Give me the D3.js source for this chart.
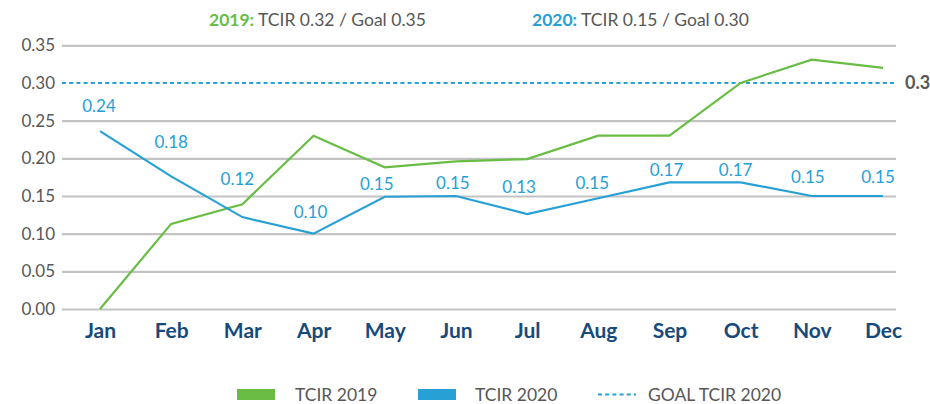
<!DOCTYPE html>
<html>
<head>
<meta charset="utf-8">
<script src="https://cdn.jsdelivr.net/npm/d3@7"></script>
<style>
  html, body { margin: 0; padding: 0; background: #fff; }
  svg { display: block; font-family: Lato, "Open Sans", sans-serif; }
</style>
</head>
<body>
<svg id="chart" width="930" height="404"></svg>
<script>
// ---- data ----
const months = ["Jan", "Feb", "Mar", "Apr", "May", "Jun", "Jul", "Aug", "Sep", "Oct", "Nov", "Dec"];
const tcir2019 = [0.000, 0.113, 0.139, 0.230, 0.188, 0.196, 0.199, 0.230, 0.230, 0.300, 0.331, 0.320];
const tcir2020 = [0.236, 0.176, 0.122, 0.100, 0.149, 0.150, 0.126, 0.147, 0.168, 0.168, 0.150, 0.150];
const goal2020 = 0.30;
const yTicks = [0.00, 0.05, 0.10, 0.15, 0.20, 0.25, 0.30, 0.35];
const legendLabels = ["TCIR 2019", "TCIR 2020", "GOAL TCIR 2020"];
const summary2019 = { year: "2019:", text: " TCIR 0.32 / Goal 0.35" };
const summary2020 = { year: "2020:", text: " TCIR 0.15 / Goal 0.30" };

// ---- layout / style ----
const GREEN = "#69bd45", BLUE = "#27a0d6", NAVY = "#174a7c", GREY = "#575757", GRID = "#c3c3c3";
const plot = { left: 62, right: 896, top: 45.3, bottom: 309 };
// per-label nudges for the 2020 value labels [dx, dy] relative to the point
const labelNudge = [[-1, -25], [0, -34], [-5, -38], [-3, -22], [-8, -13], [-3, -13],
                    [-8, -27], [-6, -15], [-3, -12], [-5, -12], [-4, -19], [-5, -19]];

const svg = d3.select("#chart");

const x = d3.scalePoint().domain(months).range([100, 883]);
const y = d3.scaleLinear().domain([0, 0.35]).range([plot.bottom, plot.top]);
const fmt = d3.format(".2f");

// grid + y labels
const yAxis = svg.append("g")
  .attr("transform", `translate(${plot.left},0)`)
  .call(d3.axisLeft(y).tickValues(yTicks).tickFormat(fmt)
    .tickSize(-(plot.right - plot.left)).tickPadding(7));
yAxis.select(".domain").remove();
yAxis.selectAll(".tick line")
  .attr("stroke", GRID).attr("stroke-width", 2.2)
  .filter(d => Math.abs(d - goal2020) < 1e-9).remove();
yAxis.selectAll(".tick text")
  .attr("fill", GREY).attr("font-size", 17).attr("font-family", "Lato, sans-serif");

// goal line and its value at the right edge
svg.append("line")
  .attr("x1", plot.left).attr("x2", plot.right)
  .attr("y1", y(goal2020)).attr("y2", y(goal2020))
  .attr("stroke", BLUE).attr("stroke-width", 2)
  .attr("stroke-dasharray", "4,3.2");
svg.append("text")
  .attr("x", 905).attr("y", y(goal2020)).attr("dy", "0.35em")
  .attr("font-size", 18).attr("font-weight", 700).attr("fill", GREY)
  .text(fmt(goal2020));

// x axis labels
const xAxis = svg.append("g")
  .attr("transform", `translate(0,${plot.bottom})`)
  .call(d3.axisBottom(x).tickSize(0).tickPadding(14));
xAxis.select(".domain").remove();
xAxis.selectAll(".tick text")
  .attr("fill", NAVY).attr("font-size", 21).attr("font-weight", 700)
  .attr("font-family", "Lato, sans-serif");

// series lines
const line = d3.line().x((d, i) => x(months[i])).y(d => y(d));
svg.append("path").datum(tcir2019)
  .attr("fill", "none").attr("stroke", GREEN).attr("stroke-width", 2.2)
  .attr("stroke-linejoin", "miter").attr("d", line);
svg.append("path").datum(tcir2020)
  .attr("fill", "none").attr("stroke", BLUE).attr("stroke-width", 2.2)
  .attr("stroke-linejoin", "miter").attr("d", line);

// 2020 value labels
svg.append("g").selectAll("text").data(tcir2020).join("text")
  .attr("x", (d, i) => x(months[i]) + labelNudge[i][0])
  .attr("y", (d, i) => y(d) + labelNudge[i][1])
  .attr("dy", "0.35em")
  .attr("text-anchor", "middle")
  .attr("font-size", 17).attr("fill", BLUE)
  .text(d => fmt(d));

// header summary
const head = svg.append("text").attr("y", 26).attr("font-size", 17.5).attr("fill", GREY);
head.append("tspan").attr("x", 209).attr("font-weight", 700).attr("fill", GREEN).text(summary2019.year);
head.append("tspan").text(summary2019.text);
const head2 = svg.append("text").attr("y", 26).attr("font-size", 17.5).attr("fill", GREY);
head2.append("tspan").attr("x", 532).attr("font-weight", 700).attr("fill", BLUE).text(summary2020.year);
head2.append("tspan").text(summary2020.text);

// legend
const legend = svg.append("g").attr("font-size", 17.5).attr("fill", GREY);
const lg = [
  { swatchX: 237, textX: 295, kind: "rect", color: GREEN },
  { swatchX: 418, textX: 475, kind: "rect", color: BLUE },
  { swatchX: 598, textX: 648, kind: "dash", color: BLUE }
];
lg.forEach((l, i) => {
  if (l.kind === "rect") {
    legend.append("rect").attr("x", l.swatchX).attr("y", 389).attr("width", 38).attr("height", 11).attr("fill", l.color);
  } else {
    legend.append("line").attr("x1", l.swatchX).attr("x2", l.swatchX + 38)
      .attr("y1", 394.5).attr("y2", 394.5)
      .attr("stroke", l.color).attr("stroke-width", 2).attr("stroke-dasharray", "4,3.2");
  }
  legend.append("text").attr("x", l.textX).attr("y", 394.5).attr("dy", "0.35em").text(legendLabels[i]);
});
</script>
</body>
</html>
